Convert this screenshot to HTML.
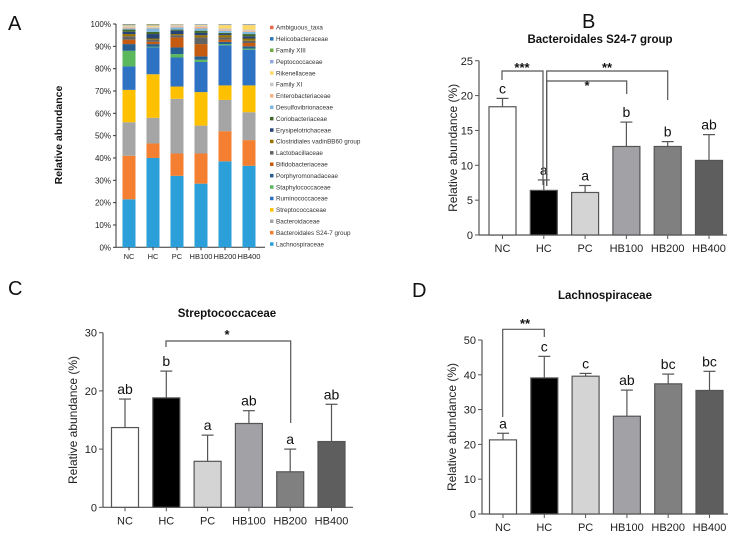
<!DOCTYPE html>
<html><head><meta charset="utf-8">
<style>
html,body{margin:0;padding:0;background:#fff;}
svg{display:block;font-family:"Liberation Sans",Arial,sans-serif;}
</style></head>
<body>
<svg id="fig" width="738" height="541" viewBox="0 0 738 541">
<text x="8" y="30" font-size="20" fill="#111">A</text>
<text x="582" y="28" font-size="20" fill="#111">B</text>
<text x="8" y="295" font-size="20" fill="#111">C</text>
<text x="412" y="297" font-size="20" fill="#111">D</text>
<g id="pa"></g>
<g id="pb"></g>
<g id="pc"></g>
<g id="pd"></g>
</svg>
<script>
const groups = ["NC","HC","PC","HB100","HB200","HB400"];
// Panel A taxa (bottom to top)
const taxa = ["Lachnospiraceae","Bacteroidales S24-7 group","Bacteroidaceae","Streptococcaceae","Ruminococcaceae","Staphylococcaceae","Porphyromonadaceae","Bifidobacteriaceae","Lactobacillaceae","Clostridiales vadinBB60 group","Erysipelotrichaceae","Coriobacteriaceae","Desulfovibrionaceae","Enterobacteriaceae","Family XI","Rikenellaceae","Peptococcaceae","Family XIII","Helicobacteraceae","Ambiguous_taxa"];
const taxaColors = ["#2b9fd9","#f47f30","#a5a5a5","#ffc000","#2e72c4","#5cb85c","#255e91","#c55a11","#636363","#997300","#264478","#43682b","#7fb8e0","#f4b183","#c9c9c9","#ffd966","#8faadc","#70ad47","#2f75b5","#e56a4a"];
const abNC    = [21.5,19.5,15,14.5,10.5,7,3,2,1.5,1,1,1,0.5,0.5,0.5,0.3,0.2,0.2,0.2,0.1];
const abHC    = [40,6.5,11.5,19.5,12,0.3,1.2,1,1,0.5,2,1,1.5,0.3,0.5,0.5,0.3,0.2,0.1,0.1];
const abPC    = [32,10,24.5,5.5,13,1.5,3,4.5,1,0.5,1.5,0.5,1,0.5,0.5,0.2,0.1,0.1,0.05,0.05];
const abHB100 = [28.5,13.5,12.5,15,13.5,1,1.5,5.5,3,1,1,1,1,0.7,0.6,0.3,0.2,0.1,0.05,0.05];
const abHB200 = [38.5,13.5,14,6.5,18,0.5,1,1,1,1,0.5,0.5,1,0.5,0.5,1.5,0.3,0.1,0.05,0.05];
const abHB400 = [36.5,11.5,12.5,12,16,0.5,1,1.5,1,1,1,1,1,0.5,0.5,2,0.3,0.1,0.05,0.05];
const abundance = [abNC,abHC,abPC,abHB100,abHB200,abHB400];
const pctTicks = ["0%","10%","20%","30%","40%","50%","60%","70%","80%","90%","100%"];

// Panel B
const bMeans = [18.4,6.4,6.1,12.7,12.7,10.7];
const bErr   = [1.2,1.5,1.0,3.5,0.7,3.7];
const bLetters = ["c","a","a","b","b","ab"];
const bTicks = [0,5,10,15,20,25];
// Panel C
const cMeans = [13.7,18.8,7.9,14.4,6.1,11.3];
const cErr   = [4.9,4.6,4.5,2.2,3.9,6.4];
const cLetters = ["ab","b","a","ab","a","ab"];
const cTicks = [0,10,20,30];
// Panel D
const dMeans = [21.3,39.1,39.6,28.1,37.4,35.5];
const dErr   = [1.9,6.2,0.8,7.5,2.8,5.5];
const dLetters = ["a","c","c","ab","bc","bc"];
const dTicks = [0,10,20,30,40,50];

const barFills = ["#ffffff","#000000","#d4d4d4","#a2a2a6","#808080","#5e5e5e"];
const NS="http://www.w3.org/2000/svg";
function mk(parent,tag,attrs,text){const e=document.createElementNS(NS,tag);for(const k in attrs)e.setAttribute(k,attrs[k]);if(text!==undefined)e.textContent=text;parent.appendChild(e);return e;}

// ---- Panel A ----
(function(){
  const g=document.getElementById('pa');
  const y0=247.3, ppu=2.233, x0=129, step=24, bw=13;
  const yA=v=>y0-v*ppu, xA=i=>x0+i*step;
  let ax=mk(g,'line',{x1:116,y1:yA(100),x2:116,y2:y0,stroke:'#333','stroke-width':1});
  
  let bx=mk(g,'line',{x1:116,y1:y0,x2:265,y2:y0,stroke:'#333','stroke-width':1});
  
  pctTicks.forEach((t,i)=>{
    mk(g,'line',{x1:113,x2:116,y1:yA(i*10),y2:yA(i*10),stroke:'#333'});
    const tx=mk(g,'text',{x:111,y:yA(i*10)+3,'font-size':8,'text-anchor':'end',fill:'#222'},t);
    
  });
  groups.forEach((gr,i)=>{
    let cum=0;
    abundance[i].forEach((v,k)=>{
      const r=mk(g,'rect',{x:xA(i)-bw/2,y:yA(cum+v),width:bw,height:v*ppu,fill:taxaColors[k]});
      
      cum+=v;
    });
    mk(g,'line',{x1:xA(i),x2:xA(i),y1:y0,y2:y0+3,stroke:'#333'});
    const tx=mk(g,'text',{x:xA(i),y:259,'font-size':7.5,'text-anchor':'middle',fill:'#222'},gr);
    
  });
  const yt=mk(g,'text',{x:0,y:0,'font-size':10.5,'font-weight':'bold','text-anchor':'middle',transform:'translate(62,135) rotate(-90)',fill:'#111'},'Relative abundance');
  
  // legend (top = last taxon)
  for(let j=0;j<taxa.length;j++){
    const k=taxa.length-1-j;
    const y=27.7+j*11.4;
    const it=mk(g,'g',{});
    
    mk(it,'rect',{x:270,y:y-2,width:3.5,height:3.5,fill:taxaColors[k]});
    mk(it,'text',{x:276,y:y+2,'font-size':6.3,fill:'#333'},taxa[k]);
  }
})();

// ---- Bar panels ----
function barPanel(id,o){
  const g=document.getElementById(id);
  const yS=v=>o.y0-v*o.ppu, xS=i=>o.x0+i*o.step;
  const maxT=o.ticks[o.ticks.length-1];
  let a=mk(g,'line',{x1:o.ax,y1:yS(maxT),x2:o.ax,y2:o.y0,stroke:'#555','stroke-width':1.2});
  
  let b=mk(g,'line',{x1:o.ax,y1:o.y0,x2:o.xend,y2:o.y0,stroke:'#555','stroke-width':1.2});
  
  o.ticks.forEach(t=>{
    mk(g,'line',{x1:o.ax-4,x2:o.ax,y1:yS(t),y2:yS(t),stroke:'#555'});
    const tx=mk(g,'text',{x:o.ax-6,y:yS(t)+4,'font-size':11,'text-anchor':'end',fill:'#222'},t);
    
  });
  groups.forEach((gr,i)=>{
    const cx=xS(i), m=o.means[i], e=o.err[i];
    const el=mk(g,'line',{x1:cx,x2:cx,y1:yS(m),y2:yS(m+e),stroke:'#555','stroke-width':1.2});
    
    mk(g,'line',{x1:cx-6,x2:cx+6,y1:yS(m+e),y2:yS(m+e),stroke:'#555','stroke-width':1.2});
    const r=mk(g,'rect',{x:cx-13.5,y:yS(m),width:27,height:m*o.ppu,fill:barFills[i],stroke:'#555','stroke-width':1.2});
    
    const lt=mk(g,'text',{x:cx,y:yS(m+e)-5,'font-size':14,'text-anchor':'middle',fill:'#111'},o.letters[i]);
    
    mk(g,'line',{x1:cx,x2:cx,y1:o.y0,y2:o.y0+4,stroke:'#555'});
    const xt=mk(g,'text',{x:cx,y:o.y0+17,'font-size':11,'text-anchor':'middle',fill:'#222'},gr);
    
  });
  const t=mk(g,'text',{x:o.tx,y:o.ty,'font-size':11.5,'font-weight':'bold','text-anchor':'middle',fill:'#111'},o.title);
  
  const yt=mk(g,'text',{x:0,y:0,'font-size':12,'text-anchor':'middle',fill:'#222',transform:`translate(${o.ytx},${(yS(maxT)+o.y0)/2}) rotate(-90)`},'Relative abundance (%)');
  
  o.brackets.forEach(br=>{
    const p=mk(g,'path',{d:`M${br[0]},${br[2]} V${br[1]} H${br[3]} V${br[4]}`,fill:'none',stroke:'#555','stroke-width':1.2});
    
    const s=mk(g,'text',{x:br[5],y:br[6],'font-size':13,'font-weight':'bold','text-anchor':'middle',fill:'#111'},br[7]);
    
  });
}
barPanel('pb',{y0:235,ppu:6.97,x0:502.5,step:41.3,ax:479,xend:727,ticks:bTicks,means:bMeans,err:bErr,letters:bLetters,title:'Bacteroidales S24-7 group',tx:600,ty:43,ytx:457,
  brackets:[[502,71,80,543,185,522,72,'***'],[546.7,71,186,667.7,100,607,72,'**'],[546.7,81,186,626.7,94,587,90,'*']]});
barPanel('pc',{y0:507.3,ppu:5.82,x0:125,step:41.3,ax:103,xend:353,ticks:cTicks,means:cMeans,err:cErr,letters:cLetters,title:'Streptococcaceae',tx:227,ty:317,ytx:77,
  brackets:[[166,341,347,290.7,423,227,339,'*']]});
barPanel('pd',{y0:514,ppu:3.48,x0:503,step:41.3,ax:482,xend:728,ticks:dTicks,means:dMeans,err:dErr,letters:dLetters,title:'Lachnospiraceae',tx:605,ty:299,ytx:456,
  brackets:[[502.7,329.3,417,544.3,337,525,328,'**']]});
</script>
</body></html>
